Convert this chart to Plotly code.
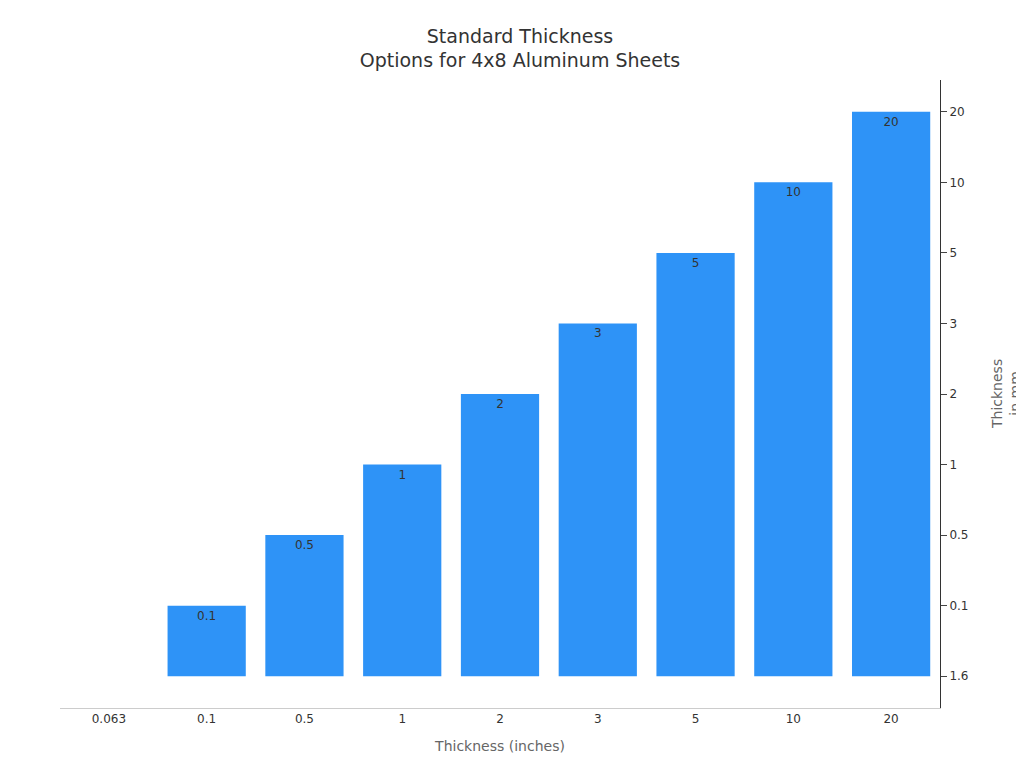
import plotly.graph_objects as go

inches = ["0.063", "0.1", "0.5", "1", "2", "3", "5", "10", "20"]
mm_values = ["1.6", "0.1", "0.5", "1", "2", "3", "5", "10", "20"]
mm_order = ["1.6", "0.1", "0.5", "1", "2", "3", "5", "10", "20"]

fig = go.Figure(go.Bar(
    x=inches,
    y=mm_values,
    text=mm_values,
    textposition="inside",
    insidetextanchor="end",
    textfont=dict(color="#333333", size=12),
    marker=dict(color="#2E93F7", line=dict(width=0)),
))

fig.update_layout(
    width=1024, height=768,
    font=dict(family="DejaVu Sans", color="#333333"),
    title=dict(text="Standard Thickness<br>Options for 4x8 Aluminum Sheets",
               x=0.5, xanchor="center", y=0.955, font=dict(size=19)),
    plot_bgcolor="white", paper_bgcolor="white",
    margin=dict(l=52, r=92, t=72, b=68),
    bargap=0.2,
    showlegend=False,
    xaxis=dict(type="category", title=dict(text="Thickness (inches)", font=dict(size=14, color="#666666")),
               showline=True, linecolor="#cccccc", ticks="", tickfont=dict(size=12)),
    yaxis=dict(type="category", categoryorder="array", categoryarray=mm_order,
               side="right", range=[-0.45, 8.45],
               showline=True, linecolor="#333333", ticks="outside", ticklen=6,
               showgrid=False, tickfont=dict(size=12)),
    annotations=[dict(text="Thickness<br>in mm", xref="paper", yref="paper",
                      x=1.075, y=0.5, xanchor="center", yanchor="middle",
                      textangle=-90, showarrow=False,
                      font=dict(size=14, color="#666666"))],
)

fig.write_html("out.html")
